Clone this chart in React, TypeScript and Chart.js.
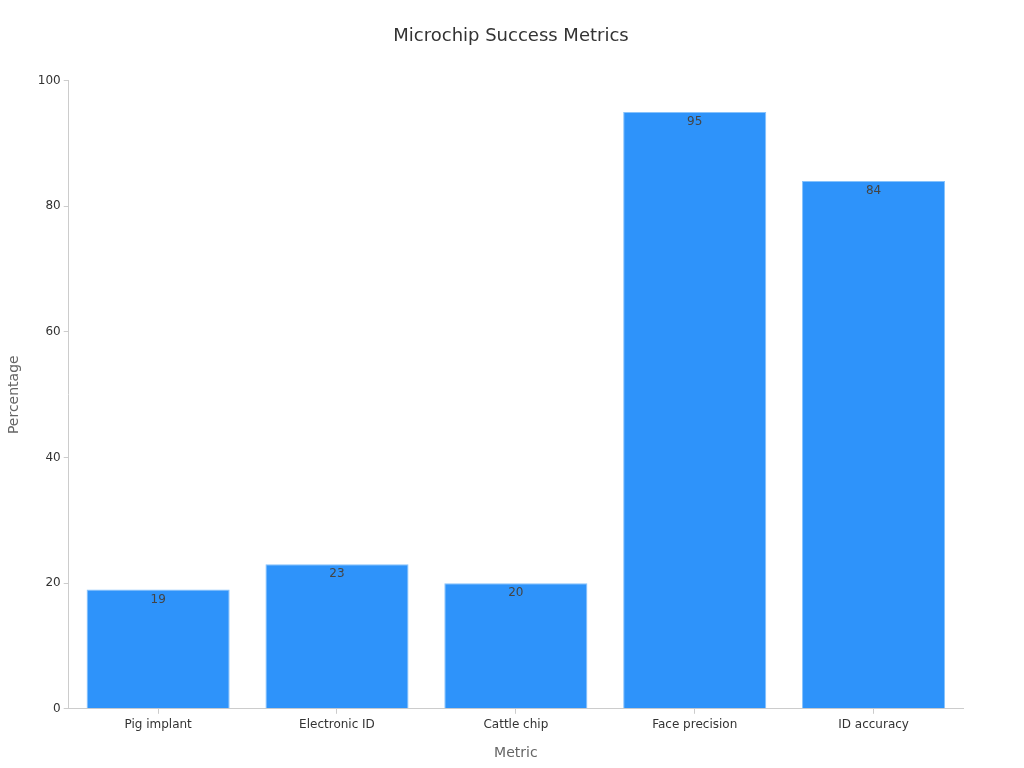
import React, { useEffect, useRef } from 'react';
import { Chart, registerables } from 'chart.js';

Chart.register(...registerables);

const metrics = ['Pig implant', 'Electronic ID', 'Cattle chip', 'Face precision', 'ID accuracy'];
const percentages = [19, 23, 20, 95, 84];
const yTicks = [0, 20, 40, 60, 80, 100];

const FONT = "'DejaVu Sans', sans-serif";

// draws each value just inside the top of its bar
const barLabels = {
  id: 'barLabels',
  afterDatasetsDraw(chart: any) {
    const ctx = chart.ctx;
    const meta = chart.getDatasetMeta(0);
    ctx.save();
    ctx.font = `12px ${FONT}`;
    ctx.fillStyle = '#444444';
    ctx.textAlign = 'center';
    ctx.textBaseline = 'top';
    meta.data.forEach((bar: any, i: number) => {
      ctx.fillText(String(percentages[i]), bar.x, bar.y + 4);
    });
    ctx.restore();
  },
};

const App = () => {
  const chartRef = useRef<HTMLCanvasElement>(null);

  useEffect(() => {
    if (!chartRef.current) return;
    const chartInstance = new Chart(chartRef.current, {
      type: 'bar',
      data: {
        labels: metrics,
        datasets: [
          {
            label: 'Percentage',
            data: percentages,
            backgroundColor: '#2e93fa',
            borderColor: '#86c2fc',
            borderWidth: 1,
            barPercentage: 0.8,
            categoryPercentage: 1,
          },
        ],
      },
      options: {
        animation: false,
        responsive: true,
        maintainAspectRatio: false,
        layout: { padding: { top: 10, right: 0, bottom: 0, left: -2 } },
        plugins: {
          legend: { display: false },
          tooltip: { enabled: false },
          title: {
            display: true,
            text: 'Microchip Success Metrics',
            color: '#333333',
            font: { family: FONT, size: 18, weight: 'normal' },
            padding: { top: 8, bottom: 33 },
          },
        },
        scales: {
          x: {
            grid: { display: true, offset: false, drawOnChartArea: false, drawTicks: true, tickLength: 5, color: '#cccccc' },
            border: { color: '#cccccc' },
            ticks: { color: '#333333', font: { family: FONT, size: 12 }, padding: 4 },
            title: {
              display: true,
              text: 'Metric',
              color: '#666666',
              font: { family: FONT, size: 14 },
              padding: { top: 9, bottom: 0 },
            },
          },
          y: {
            min: 0,
            max: 100,
            afterBuildTicks: (axis: any) => {
              axis.ticks = yTicks.map((v) => ({ value: v }));
            },
            grid: { display: true, drawOnChartArea: false, drawTicks: true, tickLength: 5, color: '#cccccc' },
            border: { color: '#cccccc' },
            ticks: { color: '#333333', font: { family: FONT, size: 12 }, padding: 3 },
            title: {
              display: true,
              text: 'Percentage',
              color: '#666666',
              font: { family: FONT, size: 14 },
              padding: { top: 0, bottom: 12 },
            },
          },
          // empty right-hand gutter so the title stays centred on the page
          gutter: {
            type: 'linear',
            position: 'right',
            display: true,
            grid: { display: false },
            border: { display: false },
            ticks: { display: false },
            afterFit: (axis: any) => {
              axis.width = 53;
            },
          },
        },
      },
      plugins: [barLabels],
    });

    return () => {
      chartInstance.destroy();
    };
  }, []);

  return (
    <div style={{ width: '1008px', height: '754px' }}>
      <canvas ref={chartRef} />
    </div>
  );
};

export default App;
